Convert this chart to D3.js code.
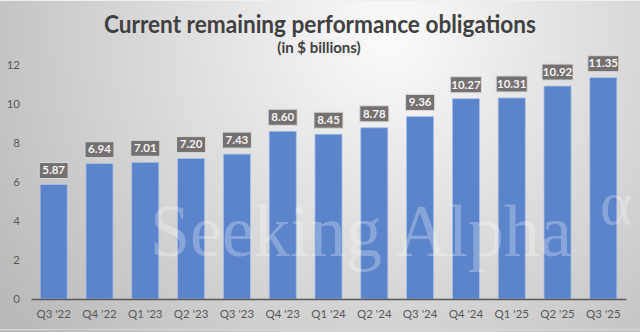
<!DOCTYPE html>
<html>
<head>
<meta charset="utf-8">
<script src="https://cdn.jsdelivr.net/npm/d3@7"></script>
<style>
  html, body { margin: 0; padding: 0; background: #d0d0d0; }
  svg { display: block; }
</style>
</head>
<body>
<script>
const categories = ["Q3 '22","Q4 '22","Q1 '23","Q2 '23","Q3 '23","Q4 '23","Q1 '24","Q2 '24","Q3 '24","Q4 '24","Q1 '25","Q2 '25","Q3 '25"];
const values = [5.87, 6.94, 7.01, 7.20, 7.43, 8.60, 8.45, 8.78, 9.36, 10.27, 10.31, 10.92, 11.35];
const yTicks = [0, 2, 4, 6, 8, 10, 12];
const title = "Current remaining performance obligations";
const subtitle = "(in $ billions)";
const watermark = "Seeking Alpha";

const W = 640, H = 332;
const svg = d3.select("body").append("svg").attr("width", W).attr("height", H);

const defs = svg.append("defs");
const rg = defs.append("radialGradient").attr("id", "bg")
  .attr("gradientUnits", "userSpaceOnUse")
  .attr("cx", 390).attr("cy", 35).attr("r", 470);
rg.append("stop").attr("offset", 0).attr("stop-color", "#fbfbfb");
rg.append("stop").attr("offset", 0.35).attr("stop-color", "#e4e4e4");
rg.append("stop").attr("offset", 1).attr("stop-color", "#b9b9b9");

svg.append("rect").attr("width", W).attr("height", H).attr("fill", "url(#bg)");
svg.append("line").attr("x1", 0).attr("x2", W).attr("y1", 0.5).attr("y2", 0.5)
  .attr("stroke", "#efefef").attr("stroke-width", 1);
svg.append("line").attr("x1", 0).attr("x2", W).attr("y1", 329.5).attr("y2", 329.5)
  .attr("stroke", "#d8d8d8").attr("stroke-width", 1);

const x = d3.scaleBand().domain(categories).range([31, 626]).paddingInner(0.41).paddingOuter(0.2);
const y = d3.scaleLinear().domain([0, 12]).range([299, 65]);

const font = "Lato, 'Open Sans', sans-serif";

// y tick labels
const yAxis = d3.axisLeft(y).tickValues(yTicks).tickSize(0).tickPadding(0).tickFormat(d3.format("d"));
const gy = svg.append("g").attr("transform", "translate(20,0)").call(yAxis);
gy.select(".domain").remove();
gy.selectAll("text").attr("font-family", font).attr("font-size", 11.5).attr("fill", "#595959");

// bars
svg.append("g").selectAll("rect").data(values).join("rect")
  .attr("x", (d, i) => x(categories[i]))
  .attr("width", x.bandwidth())
  .attr("y", d => y(d))
  .attr("height", d => y(0) - y(d))
  .attr("fill", "#5b84ca")
  .attr("stroke", "#a9bfe6").attr("stroke-width", 0.8);

// watermark
svg.append("text").text(watermark)
  .attr("x", 150).attr("y", 256)
  .attr("textLength", 422).attr("lengthAdjust", "spacingAndGlyphs")
  .attr("font-family", "'Liberation Serif', 'DejaVu Serif', serif")
  .attr("font-size", 74)
  .attr("fill", "#ffffff").attr("fill-opacity", 0.27);
svg.append("text").text("\u03b1")
  .attr("x", 600).attr("y", 224)
  .attr("font-family", "'Liberation Serif', 'DejaVu Serif', serif")
  .attr("font-size", 62)
  .attr("fill", "#ffffff").attr("fill-opacity", 0.27);

// x axis
const xAxis = d3.axisBottom(x).tickSize(0).tickPadding(11);
const gx = svg.append("g").attr("transform", `translate(0,${y(0)})`).call(xAxis);
gx.select(".domain").attr("stroke", "#595959").attr("stroke-width", 1.5);
gx.selectAll("text").attr("font-family", font).attr("font-size", 11.5).attr("fill", "#595959");

// value labels
const lab = svg.append("g").selectAll("g").data(values).join("g")
  .attr("transform", (d, i) => `translate(${x(categories[i]) + x.bandwidth() / 2},${y(d) - 6})`);
lab.each(function(d) {
  const g = d3.select(this);
  const t = d.toFixed(2);
  const w = t.length > 4 ? 31 : 29;
  g.append("rect").attr("x", -w / 2).attr("y", -16).attr("width", w).attr("height", 16)
    .attr("fill", "#767171").attr("stroke", "#d9d9d9").attr("stroke-width", 1);
  g.append("text").text(t).attr("x", 0).attr("y", -4.2).attr("text-anchor", "middle")
    .attr("font-family", font).attr("font-weight", 700).attr("font-size", 11.5)
    .attr("fill", "#f4f4f4");
});

// title
svg.append("text").text(title).attr("x", 320).attr("y", 33).attr("text-anchor", "middle")
  .attr("textLength", 432).attr("lengthAdjust", "spacingAndGlyphs")
  .attr("font-family", font).attr("font-weight", 700).attr("font-size", 24)
  .attr("fill", "#404040");
svg.append("text").text(subtitle).attr("x", 319).attr("y", 53).attr("text-anchor", "middle")
  .attr("font-family", font).attr("font-weight", 700).attr("font-size", 15)
  .attr("fill", "#404040");
</script>
</body>
</html>
